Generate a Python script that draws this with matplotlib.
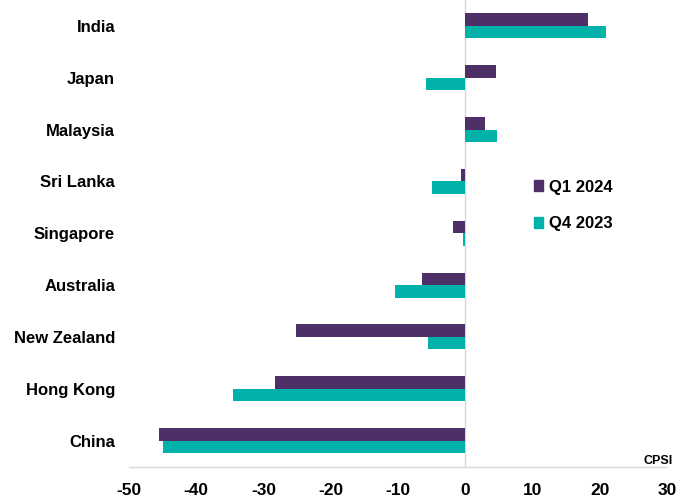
import matplotlib
matplotlib.use("Agg")
import matplotlib.pyplot as plt
from matplotlib.patches import Patch
import numpy as np

plt.rcParams['font.family'] = ['Liberation Sans', 'DejaVu Sans']

countries = ["India", "Japan", "Malaysia", "Sri Lanka", "Singapore",
             "Australia", "New Zealand", "Hong Kong", "China"]
q1_2024 = [18.2, 4.5, 3.0, -0.6, -1.8, -6.4, -25.2, -28.3, -45.5]
q4_2023 = [20.9, -5.9, 4.7, -5.0, -0.4, -10.4, -5.5, -34.6, -45.0]
xticks = [-50, -40, -30, -20, -10, 0, 10, 20, 30]

c_q1 = "#4D3068"
c_q4 = "#00B2A9"

fig = plt.figure(figsize=(6.88, 5.0), dpi=100)
ax = fig.add_axes([0.1875, 0.067, 0.782, 0.933])

n = len(countries)
pos = np.arange(n)[::-1]
h = 0.24
ax.barh(pos + h / 2, q1_2024, height=h, color=c_q1, zorder=3)
ax.barh(pos - h / 2, q4_2023, height=h, color=c_q4, zorder=3)

ax.set_xlim(-50, 30)
ax.set_ylim(-0.5, n - 0.5)
ax.set_xticks(xticks)
ax.set_xticklabels([str(t) for t in xticks], fontsize=12.5, fontweight='bold')
ax.set_yticks(pos)
ax.set_yticklabels(countries, fontsize=12, fontweight='bold')
ax.tick_params(axis='both', length=0)
ax.tick_params(axis='x', pad=12)
ax.tick_params(axis='y', pad=10)

for s in ['top', 'right', 'left']:
    ax.spines[s].set_visible(False)
ax.spines['bottom'].set_color('#D9D9D9')
ax.spines['bottom'].set_linewidth(1.0)
ax.axvline(0, color='#D9D9D9', linewidth=1.0, zorder=1)

ax.text(1.01, 0.0, "CPSI", transform=ax.transAxes, ha='right', va='bottom',
        fontsize=9, fontweight='bold')

handles = [Patch(color=c_q1, label="Q1 2024"), Patch(color=c_q4, label="Q4 2023")]
leg = ax.legend(handles=handles, loc='upper left', bbox_to_anchor=(0.752, 0.615),
                frameon=False, handlelength=0.55, handleheight=0.65,
                handletextpad=0.35, labelspacing=1.3, borderpad=0,
                borderaxespad=0, prop={'size': 12, 'weight': 'bold'})

fig.savefig("out.png", dpi=100)
